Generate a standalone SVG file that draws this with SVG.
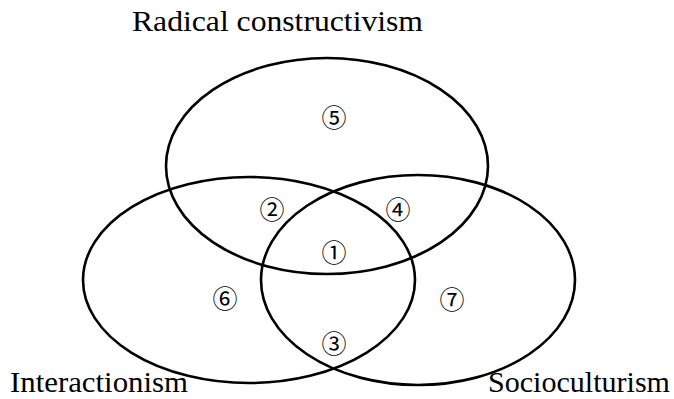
<svg xmlns="http://www.w3.org/2000/svg" width="674" height="399" viewBox="0 0 674 399">
<style>
.set{fill:none;stroke:#000;stroke-width:2.6}
.lbl{font-family:"Liberation Serif","Times New Roman",serif;font-size:30px;fill:#000}
.num{font-family:"Noto Sans CJK JP","DejaVu Sans",serif;font-size:25px;fill:#000;text-anchor:middle;dominant-baseline:central}
</style>
<rect width="674" height="399" fill="#fff"/>
<g id="radical">
<ellipse class="set" cx="327" cy="166" rx="161" ry="108"/>
<text class="lbl" x="132" y="31" textLength="291" lengthAdjust="spacingAndGlyphs">Radical constructivism</text>
</g>
<g id="interactionism">
<ellipse class="set" cx="249" cy="280" rx="166" ry="103"/>
<text class="lbl" x="10" y="392" textLength="178" lengthAdjust="spacingAndGlyphs">Interactionism</text>
</g>
<g id="socioculturism">
<ellipse class="set" cx="418" cy="280" rx="157" ry="105"/>
<text class="lbl" x="488" y="392" textLength="182" lengthAdjust="spacingAndGlyphs">Socioculturism</text>
</g>
<g id="regions">
<text class="num" x="334" y="116">⑤</text>
<text class="num" x="272" y="208">②</text>
<text class="num" x="398" y="208">④</text>
<text class="num" x="334" y="251">①</text>
<text class="num" x="225" y="297">⑥</text>
<text class="num" x="452" y="298">⑦</text>
<text class="num" x="334" y="342">③</text>
</g>
<g id="connectors"></g>
</svg>
